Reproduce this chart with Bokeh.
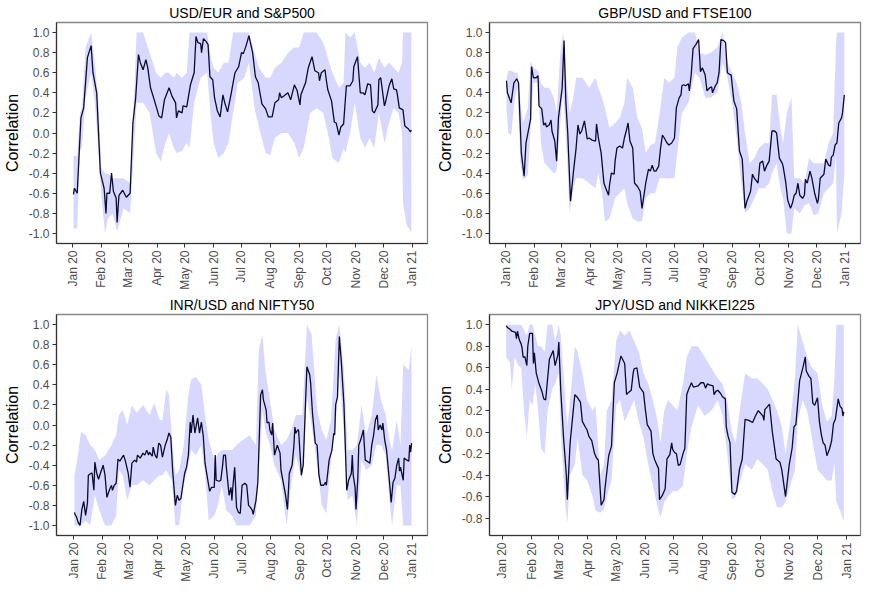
import math
import pandas as pd
from bokeh.plotting import figure
from bokeh.layouts import gridplot
from bokeh.models import Range1d, FixedTicker, DatetimeTickFormatter, NumeralTickFormatter
from bokeh.embed import file_html
from bokeh.resources import INLINE

# ---------------- data (day of year 2020, correlation) ----------------
titles = ["USD/EUR and S&P500", "GBP/USD and FTSE100", "INR/USD and NIFTY50", "JPY/USD and NIKKEI225"]

usd_line_day = [1, 2, 5, 9, 12, 16, 20, 22, 26, 30, 34, 36, 37, 40, 42, 44, 47, 48, 50, 54, 58, 62, 65, 68, 71, 73, 76, 79, 81, 84,
                88, 93, 96, 99, 104, 107, 111, 112, 114, 118, 119, 123, 127, 131, 133, 135, 138, 139, 141, 144, 146, 148, 151, 153,
                156, 159, 162, 164, 167, 170, 175, 179, 182, 184, 187, 190, 194, 197, 200, 204, 208, 211, 215, 218, 222, 223, 225,
                228, 232, 235, 239, 242, 245, 246, 251, 254, 258, 261, 265, 266, 268, 272, 273, 275, 279, 282, 284, 287, 289, 292,
                295, 299, 302, 303, 307, 310, 313, 315, 318, 321, 323, 325, 329, 330, 332, 336, 337, 341, 344, 346, 349, 350, 352,
                356, 358, 362, 364, 365]
usd_line_val = [-0.61, -0.55, -0.60, 0.15, 0.25, 0.75, 0.87, 0.60, 0.40, -0.40, -0.55, -0.80, -0.60, -0.60, -0.40, -0.58, -0.65,
                -0.89, -0.62, -0.57, -0.64, -0.60, 0.10, 0.35, 0.78, 0.70, 0.63, 0.73, 0.65, 0.45, 0.33, 0.17, 0.15, 0.33, 0.45,
                0.37, 0.30, 0.15, 0.22, 0.20, 0.27, 0.26, 0.48, 0.60, 0.96, 0.90, 0.89, 0.80, 0.94, 0.91, 0.88, 0.56, 0.53, 0.35,
                0.22, 0.16, 0.38, 0.30, 0.21, 0.35, 0.60, 0.66, 0.80, 0.79, 0.87, 0.97, 0.80, 0.56, 0.50, 0.29, 0.24, 0.16, 0.16,
                0.30, 0.33, 0.40, 0.35, 0.37, 0.40, 0.33, 0.48, 0.42, 0.28, 0.38, 0.50, 0.65, 0.76, 0.62, 0.60, 0.52, 0.60, 0.63,
                0.55, 0.43, 0.32, 0.11, 0.10, -0.02, 0.06, 0.09, 0.47, 0.47, 0.52, 0.66, 0.76, 0.40, 0.40, 0.38, 0.49, 0.48, 0.22,
                0.20, 0.28, 0.53, 0.55, 0.27, 0.30, 0.47, 0.54, 0.44, 0.43, 0.38, 0.25, 0.23, 0.07, 0.04, 0.01, 0.03]
usd_band_day = [1, 5, 8, 10, 14, 20, 24, 28, 31, 35, 38, 43, 48, 55, 62, 66, 69, 76, 83, 90, 95, 100, 104, 109, 112, 118, 123, 126,
                131, 138, 145, 149, 152, 157, 163, 168, 173, 178, 185, 190, 196, 201, 208, 213, 218, 225, 232, 239, 244, 249, 256,
                263, 270, 275, 280, 287, 292, 294, 299, 304, 310, 315, 320, 325, 330, 336, 341, 346, 351, 355, 356, 360, 365]
usd_band_lo = [-0.95, -0.95, -0.18, -0.15, 0.35, 0.60, 0.30, -0.20, -0.62, -1.00, -0.85, -0.80, -0.98, -0.75, -0.80, -0.20, 0.30,
               0.30, 0.20, -0.20, -0.28, -0.10, 0.00, -0.15, -0.20, -0.18, -0.10, -0.15, 0.30, 0.55, 0.60, 0.15, -0.10, -0.25,
               -0.20, -0.10, 0.20, 0.50, 0.55, 0.70, 0.25, 0.05, -0.20, -0.22, -0.05, 0.00, 0.00, -0.10, -0.25, -0.15, 0.20, 0.25,
               0.20, 0.00, -0.25, -0.30, -0.15, -0.20, 0.00, 0.30, -0.05, -0.15, -0.05, -0.15, 0.20, -0.10, 0.10, 0.25, 0.20,
               0.00, -0.70, -0.92, -0.99]
usd_band_hi = [-0.23, -0.23, 0.20, 0.25, 0.85, 1.00, 0.70, 0.30, -0.35, -0.40, -0.40, -0.45, -0.45, -0.45, -0.50, 0.30, 1.00, 1.00,
               0.80, 0.60, 0.55, 0.60, 0.60, 0.55, 0.60, 0.55, 0.60, 1.00, 1.00, 1.00, 1.00, 0.75, 0.65, 0.60, 0.70, 0.70, 1.00,
               1.00, 1.00, 1.00, 0.80, 0.65, 0.55, 0.55, 0.65, 0.70, 0.80, 0.85, 0.85, 1.00, 1.00, 1.00, 0.90, 0.75, 0.60, 0.45,
               0.50, 1.00, 0.95, 1.00, 0.70, 0.65, 0.70, 0.60, 0.75, 0.65, 0.70, 0.65, 0.60, 0.70, 1.00, 1.00, 1.00]

gbp_line_day = [1, 2, 6, 9, 12, 14, 17, 20, 22, 27, 28, 30, 33, 35, 36, 39, 41, 43, 44, 47, 49, 50, 53, 55, 57, 61, 63, 65, 67, 70,
                73, 76, 78, 80, 82, 85, 88, 90, 93, 97, 98, 100, 103, 106, 108, 111, 112, 114, 117, 118, 120, 123, 126, 128, 130,
                132, 134, 137, 139, 142, 145, 147, 151, 154, 156, 158, 160, 162, 165, 167, 169, 171, 174, 176, 179, 182, 184, 187,
                189, 190, 192, 194, 197, 198, 200, 202, 205, 208, 210, 212, 215, 217, 220, 222, 223, 226, 228, 230, 232, 235, 237,
                239, 242, 243, 246, 249, 252, 255, 258, 260, 264, 266, 268, 272, 274, 277, 279, 281, 284, 287, 290, 292, 295, 298,
                299, 302, 304, 307, 309, 311, 313, 315, 317, 320, 322, 323, 325, 328, 330, 333, 336, 337, 339, 343, 345, 348, 350,
                351, 353, 355, 357, 359, 362, 363, 365]
gbp_line_val = [0.52, 0.40, 0.30, 0.50, 0.54, 0.50, -0.20, -0.43, -0.10, 0.14, 0.66, 0.55, 0.55, 0.57, 0.27, 0.24, 0.08, 0.10, 0.06,
                0.08, 0.13, 0.02, -0.08, -0.28, 0.15, 0.45, 0.92, 0.30, 0.00, -0.68, -0.40, -0.15, 0.08, -0.01, 0.02, 0.12, -0.06,
                -0.05, -0.07, -0.08, 0.09, -0.05, -0.20, -0.50, -0.55, -0.62, -0.52, -0.40, -0.41, -0.28, -0.15, -0.13, -0.15,
                -0.05, 0.02, 0.10, -0.08, -0.15, -0.50, -0.53, -0.58, -0.75, -0.50, -0.36, -0.38, -0.32, -0.38, -0.38, -0.33,
                -0.15, -0.02, -0.05, -0.10, -0.12, -0.10, -0.05, 0.25, 0.35, 0.38, 0.47, 0.48, 0.47, 0.49, 0.42, 0.58, 0.84, 0.88,
                0.93, 0.61, 0.65, 0.58, 0.42, 0.45, 0.46, 0.40, 0.47, 0.50, 0.60, 0.93, 0.92, 0.90, 0.60, 0.58, 0.58, 0.32, 0.24,
                -0.18, -0.26, -0.75, -0.68, -0.58, -0.41, -0.45, -0.50, -0.30, -0.28, -0.38, -0.33, -0.28, 0.02, 0.02, 0.00,
                -0.25, -0.30, -0.33, -0.50, -0.67, -0.75, -0.70, -0.62, -0.60, -0.50, -0.62, -0.65, -0.62, -0.46, -0.50, -0.38,
                -0.45, -0.60, -0.70, -0.66, -0.45, -0.41, -0.26, -0.32, -0.33, -0.24, -0.22, -0.12, -0.10, 0.10, 0.15, 0.20, 0.38]
gbp_band_day = [1, 3, 6, 10, 13, 16, 19, 24, 27, 30, 35, 38, 42, 47, 52, 55, 59, 62, 66, 69, 73, 76, 83, 90, 97, 100, 104, 107, 112,
                118, 123, 128, 131, 137, 142, 147, 151, 156, 161, 166, 171, 176, 182, 185, 190, 197, 204, 209, 215, 221, 228, 234,
                239, 244, 249, 254, 258, 263, 268, 273, 279, 284, 287, 292, 296, 299, 303, 308, 311, 317, 322, 327, 332, 337, 343,
                348, 353, 356, 357, 362, 365]
gbp_band_lo = [0.25, 0.00, -0.02, 0.35, 0.45, -0.30, -0.47, -0.42, 0.05, 0.50, 0.50, -0.10, -0.30, -0.35, -0.40, -0.38, 0.10, 0.40,
               -0.20, -0.80, -0.55, -0.45, -0.45, -0.50, -0.55, -0.40, -0.60, -0.88, -0.85, -0.65, -0.60, -0.55, -0.70, -0.85,
               -0.88, -0.88, -0.65, -0.60, -0.60, -0.45, -0.45, -0.45, -0.45, -0.20, 0.20, 0.30, 0.60, 0.55, 0.35, 0.35, 0.40,
               0.70, 0.55, 0.30, -0.05, -0.50, -0.80, -0.75, -0.65, -0.55, -0.55, -0.50, -0.40, -0.30, -0.55, -0.65, -1.00, -1.00,
               -0.75, -0.80, -0.72, -0.70, -0.82, -0.80, -0.60, -0.55, -0.50, -0.20, -1.00, -0.80, -0.40]
gbp_band_hi = [0.55, 0.62, 0.62, 0.60, 0.60, 0.30, 0.10, 0.25, 0.72, 0.65, 0.62, 0.50, 0.45, 0.45, 0.35, 0.20, 0.80, 1.00, 0.50,
               0.20, 0.35, 0.55, 0.55, 0.45, 0.55, 0.45, 0.35, 0.25, 0.05, 0.10, 0.15, 0.30, 0.55, 0.45, 0.15, 0.05, -0.20, -0.12,
               -0.10, 0.20, 0.55, 0.50, 0.55, 0.85, 0.95, 1.00, 1.00, 0.80, 0.78, 0.80, 0.85, 1.00, 0.70, 0.60, 0.50, 0.30, 0.00,
               -0.30, -0.25, -0.15, -0.10, -0.10, 0.38, 0.38, 0.05, -0.10, 0.20, 0.35, -0.45, -0.45, -0.50, -0.25, -0.30, -0.30,
               -0.30, -0.10, 0.00, 0.90, 1.00, 1.00, 1.00]

inr_line_day = [1, 2, 3, 5, 7, 9, 11, 13, 15, 16, 19, 20, 22, 23, 25, 27, 29, 32, 34, 36, 39, 41, 42, 44, 46, 48, 50, 52, 54, 56, 59,
                61, 63, 66, 68, 69, 72, 75, 77, 79, 81, 82, 85, 86, 88, 90, 92, 94, 96, 99, 101, 103, 105, 107, 110, 112, 114, 116,
                118, 120, 122, 124, 126, 127, 129, 131, 134, 136, 138, 140, 142, 145, 147, 149, 152, 153, 154, 157, 159, 161, 162,
                164, 165, 168, 170, 171, 172, 174, 176, 178, 180, 182, 185, 187, 189, 191, 193, 194, 197, 199, 201, 202, 204, 205,
                208, 209, 211, 212, 214, 215, 217, 220, 223, 224, 227, 229, 231, 233, 236, 238, 239, 240, 242, 243, 245, 246, 248,
                250, 252, 255, 256, 258, 261, 263, 265, 267, 270, 272, 273, 275, 276, 279, 281, 282, 283, 285, 287, 289, 292, 295,
                297, 300, 301, 302, 304, 305, 307, 308, 310, 313, 315, 317, 320, 322, 324, 326, 328, 329, 331, 333, 334, 336, 338,
                341, 343, 345, 347, 349, 351, 352, 353, 356, 357, 360, 362, 363, 364, 365]
inr_line_val = [-0.87, -0.90, -0.91, -0.97, -1.00, -0.84, -0.76, -0.90, -0.78, -0.50, -0.48, -0.48, -0.65, -0.37, -0.48, -0.54,
                -0.48, -0.40, -0.50, -0.72, -0.64, -0.60, -0.65, -0.60, -0.58, -0.34, -0.36, -0.33, -0.30, -0.36, -0.48, -0.62,
                -0.38, -0.35, -0.37, -0.30, -0.33, -0.28, -0.30, -0.25, -0.30, -0.27, -0.31, -0.22, -0.30, -0.33, -0.18, -0.20,
                -0.32, -0.20, -0.15, -0.08, -0.12, -0.45, -0.80, -0.70, -0.75, -0.73, -0.60, -0.48, -0.42, -0.30, 0.03, -0.08, 0.10,
                -0.08, 0.07, -0.08, 0.03, -0.10, -0.38, -0.55, -0.66, -0.62, -0.62, -0.30, -0.55, -0.56, -0.55, -0.40, -0.30, -0.30,
                -0.42, -0.70, -0.62, -0.75, -0.62, -0.42, -0.82, -0.87, -0.88, -0.60, -0.58, -0.60, -0.80, -0.82, -0.85, -0.89,
                -0.75, -0.57, 0.00, 0.30, 0.35, 0.25, 0.15, 0.02, 0.03, -0.05, -0.10, 0.02, -0.30, -0.20, -0.28, -0.45, -0.60,
                -0.70, -0.84, -0.48, -0.40, -0.20, -0.02, -0.08, -0.05, -0.05, -0.35, -0.50, -0.40, 0.10, 0.58, 0.50, 0.42, 0.12,
                -0.18, -0.20, -0.50, -0.60, -0.60, -0.57, -0.60, -0.43, -0.35, -0.25, -0.08, -0.10, 0.20, 0.28, 0.88, 0.65, 0.20,
                -0.65, -0.55, -0.48, -0.30, -0.50, -0.62, -0.84, -0.52, -0.20, -0.15, -0.05, -0.35, -0.36, -0.38, -0.20, -0.10,
                0.05, 0.10, -0.05, 0.00, -0.05, 0.02, -0.15, -0.25, -0.55, -0.77, -0.57, -0.53, -0.40, -0.33, -0.46, -0.42, -0.55,
                -0.33, -0.35, -0.36, -0.20, -0.27, -0.18]
inr_band_day = [1, 4, 8, 13, 18, 23, 28, 34, 41, 46, 49, 53, 58, 63, 68, 75, 82, 87, 93, 96, 100, 103, 106, 110, 114, 119, 124, 127,
                132, 138, 142, 146, 152, 156, 160, 165, 171, 176, 183, 190, 197, 200, 204, 207, 212, 217, 224, 230, 235, 240, 247,
                252, 257, 263, 268, 273, 278, 283, 287, 292, 296, 301, 306, 311, 316, 322, 327, 332, 337, 341, 344, 349, 353, 356,
                362, 365]
inr_band_lo = [-1.00, -1.00, -1.00, -0.95, -1.00, -0.70, -0.85, -1.00, -1.00, -0.90, -0.45, -0.50, -0.75, -0.60, -0.60, -0.55,
               -0.60, -0.55, -0.50, -0.50, -0.45, -0.50, -0.55, -1.00, -1.00, -0.60, -0.40, -0.25, -0.30, -0.20, -0.50, -0.95,
               -0.90, -0.80, -0.60, -0.85, -0.90, -1.00, -1.00, -1.00, -0.90, -0.45, 0.15, -0.05, -0.20, -0.40, -0.55, -1.00,
               -0.60, -0.30, -0.55, 0.30, 0.00, -0.40, -0.80, -0.88, -0.35, 0.00, 0.50, -0.10, -0.75, -0.70, -1.00, -0.35, -0.45,
               -0.40, -0.20, -0.20, -0.30, -0.75, -1.00, -0.60, -0.60, -1.00, -1.00, -1.00]
inr_band_hi = [-0.50, -0.35, -0.07, -0.10, -0.20, -0.25, -0.35, -0.30, -0.20, -0.10, 0.10, 0.15, 0.00, 0.20, 0.12, 0.20, 0.10, 0.22,
               0.05, 0.05, 0.35, 0.30, -0.10, -0.50, -0.45, -0.20, 0.30, 0.45, 0.48, 0.40, 0.10, -0.15, -0.35, -0.28, -0.25, -0.25,
               -0.25, -0.20, -0.15, -0.10, -0.20, 0.75, 0.90, 0.55, 0.25, -0.05, -0.20, -0.15, -0.05, 0.10, 0.10, 1.00, 0.90, 0.15,
               -0.05, -0.15, 0.05, 0.85, 1.00, 0.55, -0.25, -0.25, -0.20, 0.20, -0.10, 0.10, 0.50, 0.25, 0.10, -0.15, -0.25, 0.05,
               -0.20, 0.60, 0.55, 0.78]

jpy_line_day = [4, 6, 8, 10, 14, 15, 16, 18, 20, 21, 22, 24, 26, 27, 29, 32, 33, 34, 36, 39, 42, 44, 46, 50, 54, 56, 59, 60, 62, 65,
                68, 69, 72, 74, 77, 80, 83, 85, 88, 90, 92, 95, 98, 100, 102, 105, 108, 109, 113, 116, 119, 122, 126, 130, 132, 134,
                137, 139, 140, 143, 146, 150, 152, 154, 158, 160, 162, 166, 167, 170, 173, 175, 178, 180, 181, 183, 185, 187, 189,
                192, 194, 196, 198, 201, 203, 208, 211, 214, 216, 218, 220, 224, 225, 227, 229, 232, 234, 237, 238, 240, 242, 244,
                247, 249, 252, 255, 258, 262, 266, 269, 272, 277, 278, 279, 282, 284, 287, 291, 295, 297, 301, 305, 308, 310, 312,
                316, 318, 320, 322, 323, 326, 328, 330, 332, 335, 337, 339, 341, 343, 345, 348, 350, 352, 354, 357, 359, 361, 362,
                363]
jpy_line_val = [0.99, 0.97, 0.96, 0.94, 0.93, 0.87, 0.94, 0.86, 0.82, 0.78, 0.70, 0.70, 0.62, 0.80, 0.92, 0.92, 0.64, 0.74, 0.55,
                0.45, 0.38, 0.31, 0.30, 0.68, 0.76, 0.62, 0.72, 0.84, 0.40, -0.05, -0.40, -0.63, -0.10, 0.08, 0.35, 0.32, 0.28,
                0.10, 0.05, 0.02, -0.04, -0.08, -0.20, -0.24, -0.26, -0.68, -0.63, -0.53, -0.22, -0.13, 0.46, 0.55, 0.71, 0.64,
                0.35, 0.37, 0.39, 0.55, 0.59, 0.60, 0.42, 0.37, 0.21, 0.07, 0.01, -0.20, -0.26, -0.34, -0.63, -0.59, -0.53, -0.25,
                -0.21, -0.10, -0.16, -0.19, -0.20, -0.31, -0.30, -0.20, -0.15, 0.35, 0.40, 0.46, 0.42, 0.43, 0.46, 0.46, 0.41,
                0.45, 0.44, 0.43, 0.35, 0.38, 0.39, 0.36, 0.33, 0.31, 0.05, -0.04, -0.10, -0.56, -0.58, -0.55, -0.35, -0.25, 0.12,
                0.11, 0.09, 0.15, 0.20, 0.15, 0.11, 0.21, 0.24, 0.26, 0.00, -0.25, -0.28, -0.35, -0.60, -0.30, -0.15, 0.05, 0.07,
                0.48, 0.55, 0.62, 0.70, 0.57, 0.52, 0.50, 0.27, 0.25, 0.32, 0.10, -0.02, -0.10, -0.12, -0.22, -0.15, -0.08, 0.08,
                0.12, 0.31, 0.24, 0.22, 0.15, 0.19]
jpy_band_day = [4, 8, 10, 13, 17, 20, 23, 26, 29, 32, 35, 38, 41, 45, 48, 53, 56, 60, 62, 67, 69, 72, 77, 80, 85, 90, 96, 99, 104,
                108, 111, 116, 121, 125, 130, 135, 140, 145, 150, 155, 160, 165, 168, 172, 176, 181, 186, 192, 196, 201, 208, 215,
                222, 229, 234, 239, 244, 248, 253, 258, 265, 271, 277, 282, 287, 292, 297, 301, 306, 311, 314, 319, 324, 329, 335,
                340, 345, 350, 353, 355, 360, 363]
jpy_band_lo = [0.70, 0.65, 0.40, 0.70, 0.62, 0.60, 0.20, -0.05, 0.30, 0.25, 0.45, 0.20, -0.15, -0.20, 0.20, 0.40, 0.45, 0.55, 0.00,
               -0.70, -0.85, -0.40, -0.30, -0.05, -0.40, -0.45, -0.60, -0.73, -0.75, -0.72, -0.60, -0.45, 0.25, 0.30, 0.10, 0.20,
               0.30, 0.10, -0.05, -0.30, -0.50, -0.70, -0.80, -0.65, -0.60, -0.55, -0.55, -0.50, -0.20, 0.05, 0.25, 0.15, 0.20,
               0.30, 0.15, -0.20, -0.63, -0.60, -0.45, -0.30, -0.35, -0.25, -0.30, -0.35, -0.55, -0.70, -0.70, -0.65, -0.50,
               -0.35, 0.10, 0.30, 0.20, -0.05, -0.35, -0.40, -0.45, -0.45, -0.30, -0.65, -0.75, -0.83]
jpy_band_hi = [1.00, 1.00, 1.00, 1.00, 1.00, 1.00, 0.95, 0.90, 1.00, 1.00, 0.90, 0.80, 0.80, 0.75, 1.00, 1.00, 0.85, 1.00, 0.90, 0.30,
               0.05, 0.30, 0.80, 0.75, 0.55, 0.30, 0.20, 0.25, -0.40, -0.30, 0.20, 0.30, 0.85, 0.95, 0.90, 0.95, 0.85, 0.75, 0.55,
               0.45, 0.30, 0.10, -0.10, 0.20, 0.30, 0.25, 0.20, 0.45, 0.70, 0.80, 0.80, 0.70, 0.60, 0.50, 0.45, 0.30, 0.00, -0.10,
               0.25, 0.55, 0.50, 0.50, 0.45, 0.40, 0.30, 0.20, 0.05, -0.20, 0.10, 0.50, 1.00, 0.85, 0.70, 0.60, 0.55, 0.25, 0.10,
               0.15, 0.50, 1.00, 1.00, 1.00]

y_ticks_full = [-1.0, -0.8, -0.6, -0.4, -0.2, 0.0, 0.2, 0.4, 0.6, 0.8, 1.0]
y_ticks_jpy = [-0.8, -0.6, -0.4, -0.2, 0.0, 0.2, 0.4, 0.6, 0.8, 1.0]

# ---------------- styling / construction ----------------
BASE = pd.Timestamp("2020-01-01")
FONT = "Liberation Sans"
BAND = "#d8d8ff"
LINE = "#0b0b2e"


def to_dates(days):
    return BASE + pd.to_timedelta(days, unit="D")


month_ticks = [int(t.value // 10**6) for t in pd.date_range("2020-01-01", "2021-01-01", freq="MS")]


def panel(title, ld, lv, bd, lo, hi, xpad, ylim, yticks):
    x0 = (BASE + pd.Timedelta(days=xpad[0])).to_pydatetime()
    x1 = (BASE + pd.Timedelta(days=xpad[1])).to_pydatetime()
    p = figure(width=433, height=292, x_axis_type="datetime", output_backend="svg", toolbar_location=None,
               x_range=Range1d(x0, x1), y_range=Range1d(*ylim),
               min_border_left=48, min_border_right=6, min_border_top=22, min_border_bottom=40)
    p.varea(x=to_dates(bd), y1=lo, y2=hi, fill_color=BAND, fill_alpha=1.0)
    p.line(x=to_dates(ld), y=lv, line_color=LINE, line_width=1.3)

    p.title.text = title
    p.title.align = "center"
    p.title.text_font = FONT
    p.title.text_font_size = "14px"
    p.title.text_font_style = "normal"
    p.title.text_color = "black"
    p.title.offset = 0
    p.title.standoff = 4

    p.xgrid.visible = False
    p.ygrid.visible = False
    p.background_fill_color = "white"
    p.border_fill_color = "white"
    p.outline_line_color = "#888888"
    p.outline_line_width = 1.3

    xa = p.xaxis[0]
    xa.axis_label = None
    xa.ticker = FixedTicker(ticks=month_ticks)
    xa.formatter = DatetimeTickFormatter(days="%b %y", months="%b %y", years="%b %y", hours="%b %y")
    xa.major_label_orientation = math.pi / 2
    ya = p.yaxis[0]
    ya.ticker = FixedTicker(ticks=yticks)
    ya.formatter = NumeralTickFormatter(format="0.0")
    ya.axis_label = "Correlation"
    ya.axis_label_text_font = FONT
    ya.axis_label_text_font_size = "16px"
    ya.axis_label_text_font_style = "normal"
    ya.axis_label_text_color = "black"
    ya.axis_label_standoff = 5
    for ax in (xa, ya):
        ax.axis_line_color = "#333333"
        ax.axis_line_width = 1.2
        ax.major_tick_line_color = "#333333"
        ax.major_tick_out = 4
        ax.major_tick_in = 0
        ax.minor_tick_line_color = None
        ax.major_label_text_font = FONT
        ax.major_label_text_font_size = "12px"
        ax.major_label_text_color = "#4d4d4d"
        ax.major_label_standoff = 3
    return p


p1 = panel(titles[0], usd_line_day, usd_line_val, usd_band_day, usd_band_lo, usd_band_hi,
           (-17.3, 382.4), (-1.1, 1.1), y_ticks_full)
p2 = panel(titles[1], gbp_line_day, gbp_line_val, gbp_band_day, gbp_band_lo, gbp_band_hi,
           (-17.3, 382.4), (-1.1, 1.1), y_ticks_full)
p3 = panel(titles[2], inr_line_day, inr_line_val, inr_band_day, inr_band_lo, inr_band_hi,
           (-18.4, 382.2), (-1.1, 1.1), y_ticks_full)
p4 = panel(titles[3], jpy_line_day, jpy_line_val, jpy_band_day, jpy_band_lo, jpy_band_hi,
           (-13.7, 380.7), (-0.963, 1.096), y_ticks_jpy)

grid = gridplot([[p1, p2], [p3, p4]], toolbar_location=None)
open("out.html", "w").write(file_html(grid, INLINE))
